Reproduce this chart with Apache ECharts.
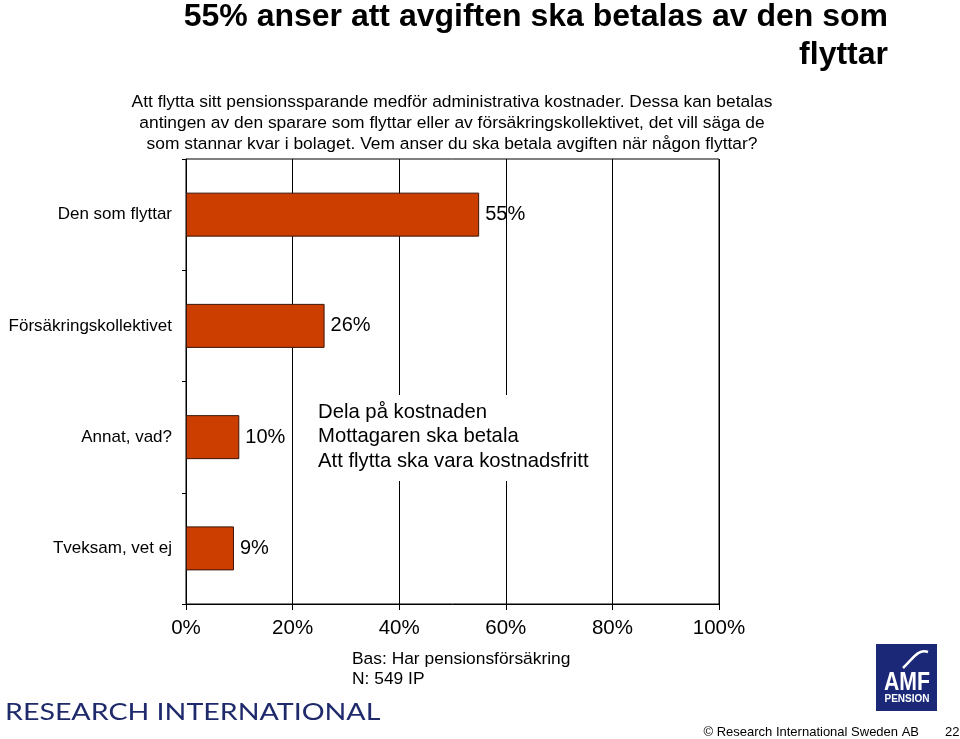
<!DOCTYPE html>
<html><head><meta charset="utf-8">
<script src="https://cdn.jsdelivr.net/npm/echarts@6/dist/echarts.min.js"></script>
<style>html,body{margin:0;padding:0;background:#fff}#c{width:960px;height:739px}</style>
</head><body><div id="c"></div>
<script>
const categories = ['Den som flyttar', 'Försäkringskollektivet', 'Annat, vad?', 'Tveksam, vet ej'];
const values = [55, 26, 10, 9];
const otherAnswers = ['Dela på kostnaden', 'Mottagaren ska betala', 'Att flytta ska vara kostnadsfritt'];
const xTicks = [0, 20, 40, 60, 80, 100];
const titleLines = ['55% anser att avgiften ska betalas av den som', 'flyttar'];
const questionLines = [
  'Att flytta sitt pensionssparande medför administrativa kostnader. Dessa kan betalas',
  'antingen av den sparare som flyttar eller av försäkringskollektivet, det vill säga de',
  'som stannar kvar i bolaget. Vem anser du ska betala avgiften när någon flyttar?'
];
const baseLines = ['Bas: Har pensionsförsäkring', 'N: 549 IP'];

const F = 'Liberation Sans, Arial, sans-serif';
const chart = echarts.init(document.getElementById('c'), null, {renderer: 'canvas'});
chart.setOption({
  animation: false,
  backgroundColor: '#fff',
  grid: {left: 186, right: 241, top: 159, bottom: 135, show: true, borderColor: '#000', borderWidth: 1, backgroundColor: 'transparent'},
  xAxis: {
    type: 'value', min: xTicks[0], max: xTicks[xTicks.length - 1], interval: xTicks[1] - xTicks[0],
    axisLine: {show: true, lineStyle: {color: '#000', width: 1}},
    axisTick: {show: true, length: 6, lineStyle: {color: '#000'}},
    splitLine: {show: true, lineStyle: {color: '#000', width: 1}},
    axisLabel: {color: '#000', fontSize: 20.5, fontFamily: F, margin: 14, formatter: '{value}%'}
  },
  yAxis: {
    type: 'category', data: categories, inverse: true,
    axisLine: {show: true, lineStyle: {color: '#000', width: 1}},
    axisTick: {show: true, length: 4, lineStyle: {color: '#000'}},
    axisLabel: {color: '#000', fontSize: 17, fontFamily: F, margin: 14}
  },
  series: [{
    type: 'bar', data: values, barWidth: 44,
    itemStyle: {color: '#CC3D00', borderColor: '#3a1508', borderWidth: 1},
    label: {show: true, position: 'right', distance: 6, formatter: '{c}%', color: '#000', fontSize: 20, fontFamily: F}
  }],
  graphic: [
    {type: 'text', right: 72, top: 1, z: 10, style: {text: titleLines[0], font: 'bold 32px ' + F, fill: '#000', textAlign: 'right'}},
    {type: 'text', right: 72, top: 39, z: 10, style: {text: titleLines[1], font: 'bold 32px ' + F, fill: '#000', textAlign: 'right'}},
    {type: 'text', x: 452, y: 92, z: 10, style: {text: questionLines.join('\n'), font: '17.4px ' + F, lineHeight: 21, fill: '#000', textAlign: 'center'}},
    {type: 'rect', z: 50, shape: {x: 302, y: 395, width: 296, height: 86}, style: {fill: '#fff'}},
    {type: 'text', x: 318, y: 400, z: 60, style: {text: otherAnswers.join('\n'), font: '20.3px ' + F, lineHeight: 24.5, fill: '#000'}},
    {type: 'text', x: 352, y: 649, z: 10, style: {text: baseLines.join('\n'), font: '17.4px ' + F, lineHeight: 20, fill: '#000'}},
    {type: 'text', x: 5, y: 700, z: 10, scaleX: 1.19, style: {text: 'RESEARCH INTERNATIONAL', font: '24px Lato, sans-serif', fill: '#1f2a6b'}},
    {type: 'rect', z: 10, shape: {x: 876, y: 644, width: 61, height: 67}, style: {fill: '#1b2877'}},
    {type: 'bezierCurve', z: 11, shape: {x1: 903, y1: 668, x2: 928, y2: 652, cpx1: 912, cpy1: 660, cpx2: 918, cpy2: 648}, style: {stroke: '#fff', lineWidth: 2.5, fill: null}},
    {type: 'text', x: 907, y: 671, z: 11, scaleX: 0.85, originX: 0, originY: 0, style: {text: 'AMF', font: 'bold 25px ' + F, fill: '#fff', textAlign: 'center'}},
    {type: 'text', x: 907, y: 694, z: 11, style: {text: 'PENSION', font: 'bold 10px ' + F, fill: '#fff', textAlign: 'center'}},
    {type: 'text', x: 919, y: 726, z: 10, style: {text: '© Research International Sweden AB', font: '13px ' + F, fill: '#000', textAlign: 'right'}},
    {type: 'text', x: 945, y: 726, z: 10, style: {text: '22', font: '13px ' + F, fill: '#000'}}
  ]
});
</script></body></html>
